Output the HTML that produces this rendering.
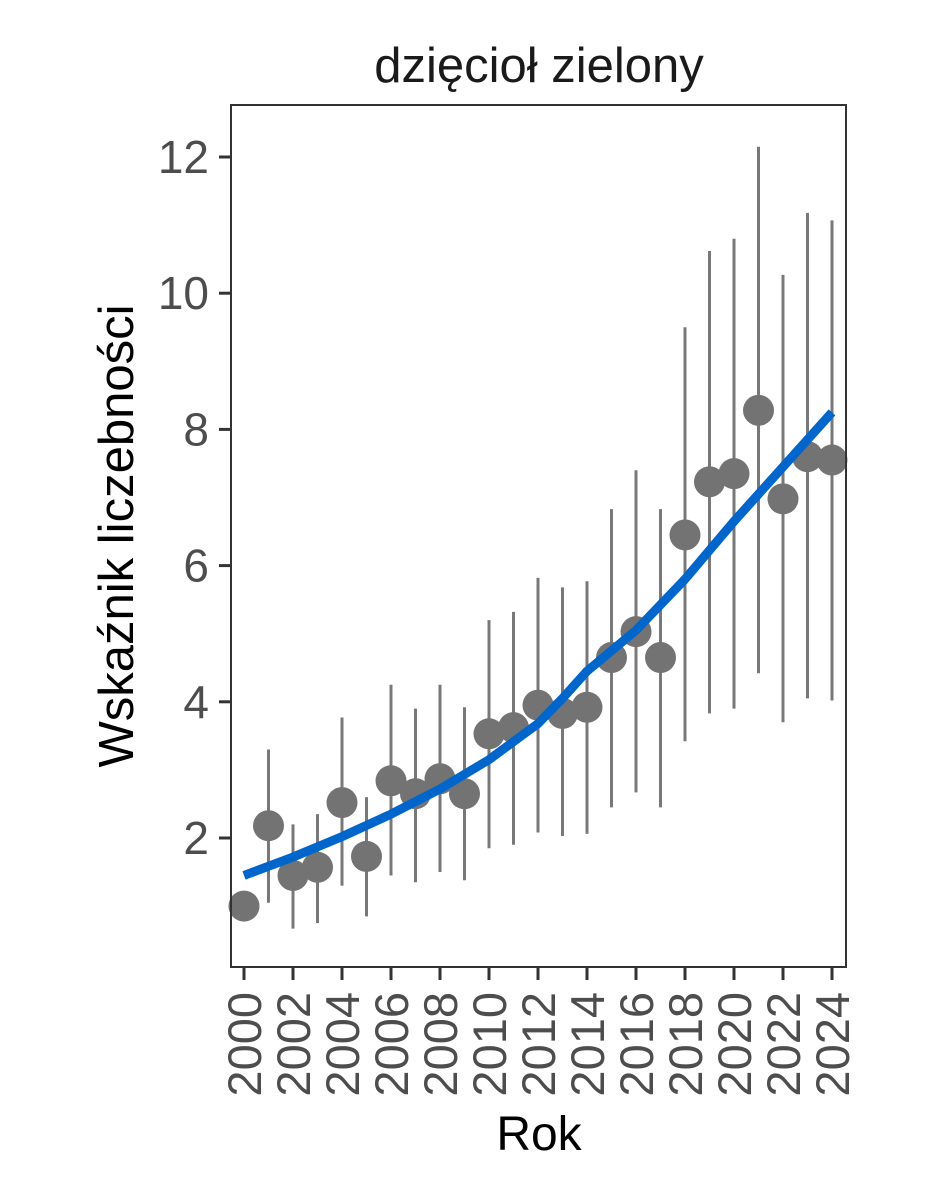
<!DOCTYPE html>
<html><head><meta charset="utf-8"><style>body{margin:0;background:#fff}svg{display:block}</style></head>
<body>
<svg id="s" width="944" height="1181" xmlns="http://www.w3.org/2000/svg" font-family="Liberation Sans, Arial, sans-serif">
<rect width="944" height="1181" fill="#fff"/>
<text x="539" y="82" font-size="49" text-anchor="middle" fill="#1a1a1a">dzięcioł zielony</text>
<g id="data"></g>
<rect x="231" y="105" width="615" height="862" fill="none" stroke="#333" stroke-width="2"/>
<g id="yt" font-size="46" fill="#4d4d4d" text-anchor="end"></g>
<g id="xt" font-size="47" fill="#4d4d4d"></g>
<text transform="translate(133,536) rotate(-90)" font-size="49" text-anchor="middle" fill="#000">Wskaźnik liczebności</text>
<text x="539" y="1150" font-size="48" text-anchor="middle" fill="#000">Rok</text>
</svg>
<script>
var ns="http://www.w3.org/2000/svg";
function Y(v){return 838-(v-2)*68.1}
function X(yr){return 244+(yr-2000)*24.5}
function el(t,a,p){var e=document.createElementNS(ns,t);for(var k in a)e.setAttribute(k,a[k]);p.appendChild(e);return e}
var d=[[1.0,1.0,1.0],[2.18,1.05,3.3],[1.45,0.67,2.2],[1.57,0.75,2.35],[2.52,1.3,3.77],[1.73,0.85,2.6],[2.84,1.45,4.25],[2.65,1.35,3.9],[2.87,1.5,4.25],[2.65,1.38,3.92],[3.53,1.85,5.2],[3.62,1.9,5.32],[3.95,2.08,5.82],[3.83,2.03,5.68],[3.92,2.06,5.77],[4.65,2.45,6.83],[5.03,2.67,7.4],[4.65,2.45,6.83],[6.45,3.42,9.5],[7.23,3.83,10.62],[7.35,3.9,10.8],[8.28,4.42,12.15],[6.98,3.7,10.27],[7.6,4.05,11.18],[7.55,4.02,11.07]];
var g=document.getElementById('data');
d.forEach(function(p,i){var x=X(2000+i);if(p[1]!=p[2])el('line',{x1:x,x2:x,y1:Y(p[1]),y2:Y(p[2]),stroke:'#787878','stroke-width':3},g);});
d.forEach(function(p,i){el('circle',{cx:X(2000+i),cy:Y(p[0]),r:15.5,fill:'#737373'},g);});
var tr=[[2000,1.45],[2002,1.72],[2004,2.02],[2006,2.35],[2008,2.72],[2010,3.15],[2012,3.68],[2013,4.05],[2014,4.45],[2016,5.05],[2018,5.8],[2020,6.65],[2022,7.45],[2024,8.25]];
el('polyline',{points:tr.map(function(p){return X(p[0])+','+Y(p[1])}).join(' '),fill:'none',stroke:'#0066cc','stroke-width':9,'stroke-linejoin':'round'},g);
var yt=document.getElementById('yt');
[2,4,6,8,10,12].forEach(function(v){var y=Y(v);el('line',{x1:219,x2:231,y1:y,y2:y,stroke:'#333','stroke-width':3},yt);var t=el('text',{x:209,y:y+16},yt);t.textContent=v;});
var xt=document.getElementById('xt');
for(var yr=2000;yr<=2024;yr+=2){var x=X(yr);el('line',{x1:x,x2:x,y1:967,y2:980,stroke:'#333','stroke-width':3},xt);var t=el('text',{transform:'translate('+(x+17)+',992) rotate(-90)','text-anchor':'end'},xt);t.textContent=yr;}
</script>
</body></html>
